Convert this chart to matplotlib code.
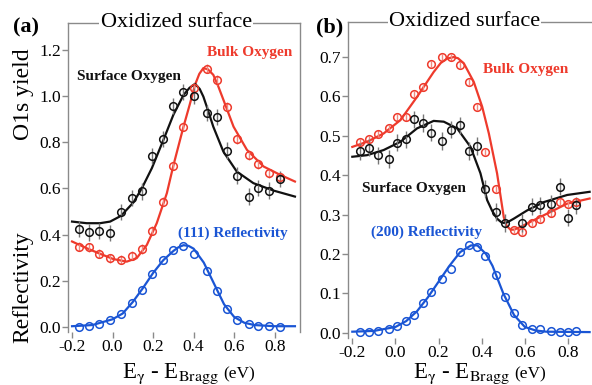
import numpy as np
import matplotlib
matplotlib.use("Agg")
import matplotlib.pyplot as plt

plt.rcParams["font.family"] = "serif"
plt.rcParams["font.serif"] = ["Liberation Serif", "DejaVu Serif"]
plt.rcParams["mathtext.fontset"] = "stix"

RED = "#ee3a2c"
BLUE = "#1a55d4"
BLACK = "#111111"
SPINE = "#8a8a8a"

# ---------------- panel (a): (111), oxidized surface ----------------
a_x = [-0.165, -0.116, -0.067, -0.012, 0.042, 0.098, 0.144, 0.194, 0.251, 0.300,
       0.350, 0.404, 0.465, 0.515, 0.564, 0.613, 0.671, 0.720, 0.774, 0.824]
a_surf = [0.424, 0.410, 0.418, 0.407, 0.498, 0.558, 0.587, 0.742, 0.814, 0.958,
          1.016, 1.001, 0.925, 0.908, 0.764, 0.656, 0.565, 0.601, 0.591, 0.641]
a_bulk = [0.349, 0.346, 0.318, 0.299, 0.292, 0.309, 0.338, 0.418, 0.543, 0.699,
          0.867, 1.036, 1.117, 1.069, 0.954, 0.813, 0.745, 0.706, 0.666, 0.651]
a_refl = [0.000, 0.008, 0.015, 0.032, 0.058, 0.107, 0.162, 0.230, 0.289, 0.335,
          0.352, 0.318, 0.245, 0.155, 0.079, 0.032, 0.015, 0.008, 0.004, 0.000]
a_surf_err = 0.035
a_bulk_err = 0.02

# fitted curves
a_fit_surf_x = [-0.2, -0.128, -0.062, -0.012, 0.042, 0.103, 0.144, 0.194, 0.251, 0.300,
                0.350, 0.380, 0.407, 0.430, 0.448, 0.470, 0.497, 0.547, 0.613, 0.695,
                0.794, 0.90]
a_fit_surf_y = [0.457, 0.450, 0.450, 0.457, 0.482, 0.540, 0.600, 0.688, 0.810, 0.918,
                1.004, 1.035, 1.052, 1.030, 0.997, 0.940, 0.867, 0.759, 0.673, 0.623,
                0.591, 0.565]
a_fit_bulk_x = [-0.2, -0.128, -0.062, 0.004, 0.070, 0.119, 0.169, 0.218, 0.268, 0.300,
                0.350, 0.380, 0.407, 0.428, 0.448, 0.470, 0.497, 0.520, 0.547, 0.597,
                0.663, 0.745, 0.827, 0.90]
a_fit_bulk_y = [0.371, 0.342, 0.318, 0.295, 0.284, 0.299, 0.356, 0.450, 0.580, 0.699,
                0.867, 0.960, 1.048, 1.095, 1.120, 1.115, 1.091, 1.045, 0.983, 0.867,
                0.767, 0.695, 0.659, 0.630]
a_fit_refl_x = [-0.2, -0.1, 0.0, 0.05, 0.1, 0.15, 0.2, 0.25, 0.3, 0.325, 0.35, 0.375,
                0.4, 0.45, 0.5, 0.55, 0.6, 0.65, 0.7, 0.8, 0.9]
a_fit_refl_y = [0.005, 0.010, 0.035, 0.060, 0.110, 0.170, 0.235, 0.290, 0.330, 0.346,
                0.355, 0.352, 0.340, 0.280, 0.190, 0.100, 0.045, 0.020, 0.010, 0.005,
                0.005]

# ---------------- panel (b): (200), oxidized surface ----------------
b_x = [-0.163, -0.124, -0.083, -0.032, 0.007, 0.049, 0.088, 0.126, 0.165, 0.216,
       0.258, 0.297, 0.340, 0.379, 0.417, 0.468, 0.510, 0.549, 0.587, 0.631,
       0.672, 0.719, 0.762, 0.801, 0.839]
b_surf = [0.461, 0.470, 0.451, 0.441, 0.483, 0.491, 0.542, 0.533, 0.508, 0.487,
          0.516, 0.527, 0.462, 0.474, 0.366, 0.307, 0.279, None, 0.279, 0.320,
          0.324, 0.328, 0.371, 0.292, 0.324]
b_bulk = [0.485, 0.491, 0.506, 0.519, 0.547, 0.547, 0.606, 0.624, 0.682, 0.701,
          0.699, 0.679, 0.637, 0.574, 0.459, 0.366, None, 0.261, 0.256, 0.278,
          0.289, 0.303, 0.333, 0.327, 0.333]
b_refl = [0.003, 0.003, 0.004, 0.009, 0.017, 0.031, 0.045, 0.075, 0.104, 0.138,
          0.163, 0.206, 0.223, 0.217, 0.195, 0.146, 0.091, 0.051, 0.020, 0.009,
          0.009, 0.005, 0.003, 0.003, 0.004]
b_surf_err = 0.022
b_bulk_err = 0.008

b_fit_surf_x = [-0.2, -0.132, -0.055, 0.023, 0.1, 0.177, 0.224, 0.286, 0.348, 0.394,
                0.425, 0.448, 0.471, 0.490, 0.502, 0.520, 0.549, 0.611, 0.688, 0.796,
                0.90]
b_fit_surf_y = [0.447, 0.451, 0.464, 0.485, 0.519, 0.538, 0.536, 0.519, 0.472, 0.405,
                0.337, 0.310, 0.290, 0.281, 0.279, 0.281, 0.290, 0.311, 0.332, 0.350,
                0.358]
b_fit_bulk_x = [-0.2, -0.132, -0.055, 0.023, 0.1, 0.177, 0.210, 0.239, 0.270, 0.290,
                0.317, 0.363, 0.402, 0.433, 0.471, 0.502, 0.515, 0.533, 0.550, 0.580,
                0.641, 0.719, 0.796, 0.90]
b_fit_bulk_y = [0.472, 0.485, 0.506, 0.540, 0.599, 0.662, 0.685, 0.696, 0.700, 0.697,
                0.684, 0.637, 0.574, 0.506, 0.405, 0.294, 0.272, 0.262, 0.262, 0.269,
                0.286, 0.307, 0.328, 0.341]
b_fit_refl_x = [-0.2, -0.1, 0.0, 0.05, 0.1, 0.15, 0.2, 0.25, 0.3, 0.35, 0.38, 0.42,
                0.45, 0.5, 0.55, 0.6, 0.65, 0.7, 0.9]
b_fit_refl_y = [0.003, 0.005, 0.015, 0.030, 0.055, 0.090, 0.130, 0.170, 0.205, 0.222,
                0.222, 0.200, 0.170, 0.100, 0.045, 0.015, 0.006, 0.003, 0.002]


def clean(x, y):
    keep = [(xi, yi) for xi, yi in zip(x, y) if yi is not None]
    return [p[0] for p in keep], [p[1] for p in keep]


def pts(ax, x, y, color, err=None, ecolor=None):
    x, y = clean(x, y)
    if err is not None:
        ax.errorbar(x, y, yerr=err, fmt="none", ecolor=ecolor, elinewidth=1.0,
                    capsize=0, zorder=2)
    ax.plot(x, y, "o", mfc="none", mec=color, ms=5.5, mew=1.1, zorder=3)


def style(ax):
    for s in ["left", "top", "right"]:
        ax.spines[s].set_color(SPINE)
        ax.spines[s].set_linewidth(1.0)
    ax.spines["bottom"].set_visible(False)
    ax.tick_params(direction="out", length=4, width=1, color=SPINE,
                   labelsize=12.5, pad=1)
    ax.set_xticks([-0.2, 0.0, 0.2, 0.4, 0.6, 0.8])
    ax.set_xticklabels(["-0.2", "0.0", "0.2", "0.4", "0.6", "0.8"])
    ax.set_xlim(-0.22, 0.925)


fig = plt.figure(figsize=(5.92, 3.85), dpi=100)
W, H = 592.0, 385.0

# panel a
axa = fig.add_axes([68 / W, (H - 332) / H, 232 / W, 309.5 / H])
axa.plot(a_fit_bulk_x, a_fit_bulk_y, color=RED, lw=1.6, zorder=1)
axa.plot(a_fit_surf_x, a_fit_surf_y, color=BLACK, lw=1.6, zorder=1)
axa.plot(a_fit_refl_x, a_fit_refl_y, color=BLUE, lw=1.6, zorder=1)
pts(axa, a_x, a_bulk, RED, a_bulk_err, "#f08a80")
pts(axa, a_x, a_surf, BLACK, a_surf_err, "#777777")
pts(axa, a_x, a_refl, BLUE)
axa.set_ylim(-0.02, 1.317)
axa.set_yticks([0.0, 0.2, 0.4, 0.6, 0.8, 1.0, 1.2])
axa.set_yticklabels(["0.0", "0.2", "0.4", "0.6", "0.8", "1.0", "1.2"])
style(axa)
axa.text(0.079, 1.082, "Surface Oxygen", color=BLACK, fontsize=11, fontweight="bold",
         ha="center", va="center")
axa.text(0.674, 1.186, "Bulk Oxygen", color=RED, fontsize=11, fontweight="bold",
         ha="center", va="center")
axa.text(0.593, 0.408, "(111) Reflectivity", color=BLUE, fontsize=11, fontweight="bold",
         ha="center", va="center")
axa.text(0.466, 1.0, "Oxidized surface", transform=axa.transAxes, fontsize=16,
         ha="center", va="center",
         bbox=dict(facecolor="white", edgecolor="none", pad=1.0))

# panel b
axb = fig.add_axes([348 / W, (H - 338) / H, 247 / W, 316 / H])
axb.plot(b_fit_bulk_x, b_fit_bulk_y, color=RED, lw=1.6, zorder=1)
axb.plot(b_fit_surf_x, b_fit_surf_y, color=BLACK, lw=1.6, zorder=1)
axb.plot(b_fit_refl_x, b_fit_refl_y, color=BLUE, lw=1.6, zorder=1)
pts(axb, b_x, b_bulk, RED, b_bulk_err, "#f08a80")
pts(axb, b_x, b_surf, BLACK, b_surf_err, "#777777")
pts(axb, b_x, b_refl, BLUE)
axb.set_ylim(-0.013, 0.789)
axb.set_yticks([0.0, 0.1, 0.2, 0.3, 0.4, 0.5, 0.6, 0.7])
axb.set_yticklabels(["0.0", "0.1", "0.2", "0.3", "0.4", "0.5", "0.6", "0.7"])
style(axb)
axb.text(0.603, 0.669, "Bulk Oxygen", color=RED, fontsize=11, fontweight="bold",
         ha="center", va="center")
axb.text(0.085, 0.367, "Surface Oxygen", color=BLACK, fontsize=11, fontweight="bold",
         ha="center", va="center")
axb.text(0.146, 0.256, "(200) Reflectivity", color=BLUE, fontsize=11, fontweight="bold",
         ha="center", va="center")
axb.text(0.472, 1.0, "Oxidized surface", transform=axb.transAxes, fontsize=16,
         ha="center", va="center",
         bbox=dict(facecolor="white", edgecolor="none", pad=1.0))

# panel labels
fig.text(26 / W, 1 - 27 / H, "(a)", fontsize=16, fontweight="bold", ha="center", va="center")
fig.text(330 / W, 1 - 27 / H, "(b)", fontsize=16, fontweight="bold", ha="center", va="center")

# y labels of panel a
fig.text(23 / W, 1 - 94 / H, "O1s yield", fontsize=17, rotation=90, ha="center", va="center")
fig.text(23 / W, 1 - 287 / H, "Reflectivity", fontsize=17, rotation=90, ha="center", va="center")

# x labels
for x0 in [122, 413]:
    t = fig.text(x0 / W, 1 - 378 / H, r"E$_\mathrm{\gamma}$ - E$_\mathrm{Bragg}$",
                 fontsize=16.5, ha="left", va="baseline")
    fig.canvas.draw()
    bb = t.get_window_extent()
    fig.text((bb.x1 + 4) / W, 1 - 378 / H, "(eV)", fontsize=12.5, ha="left", va="baseline")

fig.savefig("out.png", dpi=100)
